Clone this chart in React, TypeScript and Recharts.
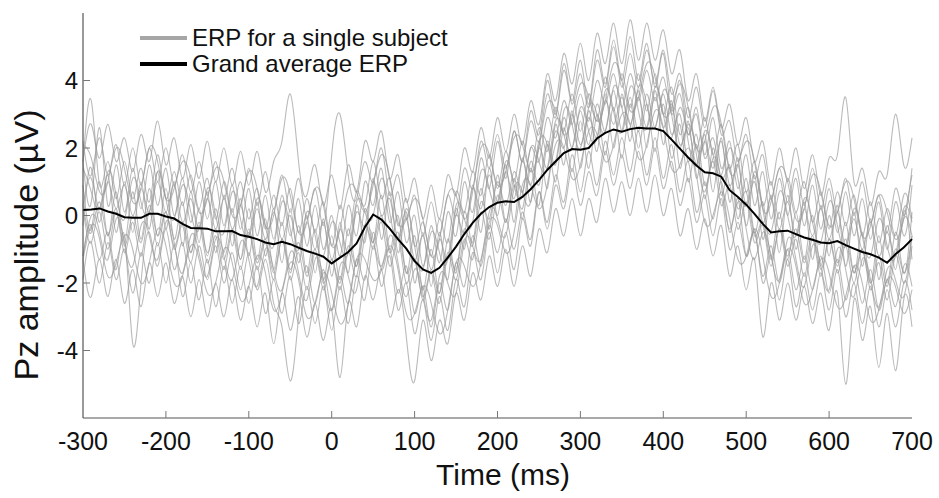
import React from 'react';
import { LineChart, Line, XAxis, YAxis, Legend } from 'recharts';

const times = [
  -300, -290, -280, -270, -260, -250, -240, -230, -220, -210,
  -200, -190, -180, -170, -160, -150, -140, -130, -120, -110,
  -100, -90, -80, -70, -60, -50, -40, -30, -20, -10,
  0, 10, 20, 30, 40, 50, 60, 70, 80, 90,
  100, 110, 120, 130, 140, 150, 160, 170, 180, 190,
  200, 210, 220, 230, 240, 250, 260, 270, 280, 290,
  300, 310, 320, 330, 340, 350, 360, 370, 380, 390,
  400, 410, 420, 430, 440, 450, 460, 470, 480, 490,
  500, 510, 520, 530, 540, 550, 560, 570, 580, 590,
  600, 610, 620, 630, 640, 650, 660, 670, 680, 690,
  700,
];

const grandAverage = [
  0.16, 0.18, 0.21, 0.12, 0.05, -0.05, -0.07, -0.07, 0.05, 0.05,
  -0.03, -0.09, -0.25, -0.37, -0.38, -0.39, -0.47, -0.47, -0.46, -0.58,
  -0.63, -0.7, -0.8, -0.85, -0.78, -0.85, -0.95, -1.05, -1.13, -1.22,
  -1.42, -1.25, -1.08, -0.83, -0.35, 0.03, -0.12, -0.39, -0.7, -0.98,
  -1.35, -1.6, -1.7, -1.55, -1.25, -0.92, -0.55, -0.22, 0.05, 0.25,
  0.38, 0.42, 0.4, 0.55, 0.78, 1.05, 1.35, 1.6, 1.85, 1.97,
  1.95, 2.0, 2.28, 2.45, 2.55, 2.48, 2.56, 2.6, 2.58, 2.58,
  2.5, 2.25, 1.98, 1.72, 1.48, 1.28, 1.25, 1.15, 0.75, 0.55,
  0.32, 0.05, -0.25, -0.5, -0.47, -0.45, -0.55, -0.65, -0.72, -0.8,
  -0.82, -0.76, -0.88, -0.98, -1.08, -1.15, -1.25, -1.4, -1.15, -0.95,
  -0.7,
];

const subject1 = [
  1.6, 3.4, 0.9, 1.6, 0.5, 1.6, 0.5, 1.4, 0.4, 1.8,
  0.5, 1.3, 0.3, 1.2, 0.2, 1.1, -0.1, 1.0, 0.1, 1.0,
  -0.1, 0.8, -0.4, 0.6, -0.3, 0.8, -0.5, 0.5, -0.5, 0.4,
  -0.9, 0.3, -0.6, 0.7, 0.3, 1.6, 0.5, 1.1, -0.3, 0.5,
  -0.9, -0.2, -1.2, -0.1, -0.8, 0.7, 0.1, 1.3, 0.6, 1.8,
  0.8, 1.9, 1.0, 2.2, 1.3, 2.6, 1.9, 3.2, 2.5, 3.6,
  2.5, 3.6, 2.8, 4.1, 3.1, 4.2, 3.2, 4.2, 3.1, 4.2,
  3.0, 3.8, 2.4, 3.2, 2.0, 2.9, 1.8, 2.7, 1.4, 2.1,
  0.7, 1.6, 0.3, 1.0, -0.1, 1.1, 0.1, 1.0, -0.2, 0.7,
  -0.4, 0.7, -0.3, 0.6, -0.6, 0.4, -0.8, 0.2, -0.6, 0.6,
  -0.1,
];
const subject2 = [
  -1.2, -0.3, -1.3, -0.5, -1.6, -0.6, -3.8, -2.0, -0.5, -1.5,
  -0.4, -1.6, -0.8, -2.0, -0.9, -1.9, -0.9, -2.0, -1.1, -2.2,
  -1.1, -2.2, -1.3, -2.6, -3.3, -4.9, -3.0, -1.5, -2.6, -1.6,
  -2.8, -1.8, -2.6, -1.3, -1.9, -0.5, -1.6, -1.0, -2.3, -1.5,
  -2.9, -2.1, -3.3, -2.0, -2.8, -1.4, -2.1, -0.6, -1.5, -0.3,
  -1.1, -0.1, -1.0, 0.1, -0.7, 0.7, -0.4, 0.9, 0.2, 1.4,
  0.3, 1.3, 0.6, 1.9, 0.9, 1.8, 0.8, 1.9, 0.9, 2.0,
  0.8, 1.6, 0.3, 1.1, -0.2, 0.6, -0.6, 0.5, -1.0, -0.2,
  -1.2, -0.5, -1.8, -0.9, -2.0, -1.0, -2.2, -1.2, -2.2, -1.2,
  -2.3, -1.3, -2.5, -1.5, -2.6, -1.6, -2.8, -1.9, -2.7, -1.5,
  -2.1,
];
const subject3 = [
  1.6, 2.7, 1.7, 2.7, 1.6, 2.3, 1.3, 2.4, 1.6, 2.8,
  1.5, 2.3, 1.1, 2.1, 1.1, 2.2, 1.0, 2.0, 0.9, 1.9,
  0.9, 1.9, 0.7, 1.6, 2.2, 3.6, 1.6, 0.6, 1.5, 0.3,
  1.2, 0.2, 1.5, 0.7, 2.2, 1.6, 2.5, 1.1, 1.8, 0.4,
  1.1, -0.1, 0.9, -0.1, 1.2, 0.6, 2.0, 1.3, 2.6, 1.7,
  2.9, 1.9, 3.0, 2.1, 3.4, 2.7, 4.2, 3.4, 4.8, 3.9,
  5.1, 4.0, 5.4, 4.5, 5.7, 4.5, 5.8, 4.6, 5.7, 4.6,
  5.5, 4.2, 4.9, 3.4, 4.2, 2.8, 3.8, 2.6, 3.3, 2.1,
  2.9, 1.6, 2.2, 0.9, 2.0, 1.0, 2.0, 0.8, 1.8, 0.6,
  1.7, 1.8, 3.5, 1.0, 1.4, 0.3, 1.3, 1.2, 3.0, 1.5,
  2.3,
];
const subject4 = [
  -1.3, -2.4, -1.3, -2.4, -1.3, -2.6, -1.6, -2.7, -1.4, -2.4,
  -1.4, -2.6, -1.8, -3.0, -1.9, -3.0, -2.0, -3.0, -1.9, -3.1,
  -2.1, -3.3, -2.3, -3.8, -2.3, -3.4, -2.4, -3.6, -2.6, -3.7,
  -2.8, -4.8, -2.6, -3.3, -1.8, -2.5, -1.6, -3.0, -2.2, -3.6,
  -4.9, -3.1, -4.3, -3.1, -3.8, -2.3, -3.1, -1.7, -2.5, -1.2,
  -2.1, -1.0, -2.1, -0.9, -1.8, -0.4, -1.1, 0.2, -0.6, 0.5,
  -0.6, 0.5, -0.2, 1.1, 0.1, 1.0, 0.0, 1.1, 0.1, 1.2,
  0.0, 0.8, -0.6, 0.2, -1.0, -0.1, -1.2, -0.3, -1.8, -0.9,
  -2.2, -1.3, -3.6, -2.0, -3.1, -2.0, -3.1, -2.1, -3.2, -2.3,
  -3.4, -2.3, -5.0, -2.5, -3.7, -2.7, -4.5, -2.9, -4.6, -2.5,
  -3.3,
];
const subject5 = [
  0.3, 1.1, 0.2, 1.0, 0.2, 0.9, 0.0, 0.8, 0.1, 1.0,
  0.1, 0.9, -0.2, 0.5, -0.4, 0.5, -0.4, 0.5, -0.4, 0.3,
  -0.6, 0.2, -0.7, 0.1, -0.7, 0.0, -1.0, -0.2, -1.0, -0.2,
  -1.3, -0.4, -1.1, 0.1, -0.3, 1.0, 0.0, 0.5, -0.7, -0.1,
  -1.3, -0.6, -1.6, -0.7, -1.3, 0.0, -0.5, 0.8, 0.2, 1.2,
  0.4, 1.3, 0.5, 1.6, 0.9, 2.0, 1.4, 2.5, 2.0, 3.0,
  2.1, 2.9, 2.3, 3.4, 2.7, 3.5, 2.7, 3.5, 2.6, 3.5,
  2.6, 3.3, 2.1, 2.6, 1.5, 2.2, 1.4, 2.2, 0.9, 1.5,
  0.3, 1.0, -0.2, 0.5, -0.4, 0.4, -0.6, 0.2, -0.6, 0.2,
  -0.7, 0.1, -0.9, -0.1, -1.0, -0.2, -1.2, -0.5, -1.2, -0.1,
  -0.6,
];
const subject6 = [
  0.2, -0.8, 0.1, -1.0, 0.1, -1.1, -0.2, -1.2, 0.1, -0.9,
  0.1, -1.0, -0.3, -1.4, -0.3, -1.4, -0.6, -1.6, -0.5, -1.6,
  -0.5, -1.6, -0.8, -1.9, -0.7, -1.9, -1.1, -2.2, -1.1, -2.2,
  -1.3, -2.2, -1.1, -1.8, -0.3, -1.0, -0.2, -1.5, -0.7, -2.0,
  -1.3, -2.5, -1.7, -2.6, -1.2, -1.9, -0.7, -1.3, 0.1, -0.7,
  0.6, -0.2, 0.9, 0.2, 1.6, 0.9, 2.2, 1.5, 2.9, 2.0,
  3.1, 2.1, 3.3, 2.5, 3.7, 2.5, 3.5, 2.5, 3.6, 2.6,
  3.6, 2.4, 3.0, 1.6, 2.4, 0.9, 1.6, 0.3, 0.9, -0.4,
  0.4, -0.8, -0.3, -1.5, -0.4, -1.5, -0.7, -1.8, -0.7, -1.8,
  -0.7, -1.7, -0.9, -2.0, -1.0, -2.2, -1.4, -2.5, -1.2, -2.0,
  -0.6,
];
const subject7 = [
  0.9, -0.4, 1.0, -0.6, 0.7, -0.8, 0.7, -0.7, 0.8, -0.6,
  0.8, -0.7, 0.4, -1.1, 0.2, -1.2, 0.2, -1.1, 0.2, -1.3,
  0.2, -1.3, -0.1, -1.6, -0.2, -1.7, -0.3, -1.7, -0.4, -1.9,
  -0.6, -1.9, -0.4, -1.5, 0.2, -0.8, 0.6, -1.0, 0.0, -1.7,
  -0.6, -2.2, -1.0, -2.3, -0.7, -1.7, 0.1, -0.8, 0.8, -0.4,
  1.2, -0.2, 1.1, -0.1, 1.4, 0.3, 2.1, 1.0, 2.6, 1.3,
  2.8, 1.4, 3.0, 1.8, 3.2, 1.7, 3.3, 2.0, 3.3, 1.9,
  3.3, 1.7, 2.7, 1.0, 2.1, 0.5, 2.0, 0.6, 1.5, -0.1,
  1.1, -0.5, 0.4, -1.2, 0.1, -1.3, 0.1, -1.3, 0.0, -1.5,
  0.0, -1.4, -0.2, -1.7, -0.5, -2.0, -0.6, -2.0, -0.5, -1.7,
  0.1,
];
const subject8 = [
  2.2, 1.2, 2.3, 1.2, 2.1, 0.9, 2.0, 0.9, 2.0, 1.0,
  2.0, 0.9, 1.8, 0.7, 1.6, 0.6, 1.6, 0.5, 1.4, 0.3,
  1.4, 0.3, 1.3, 0.2, 1.2, 0.1, 1.1, -0.1, 0.8, -0.3,
  1.8, 3.0, 1.2, 0.5, 1.6, 1.0, 2.0, 0.6, 1.2, -0.1,
  0.6, -0.6, 0.4, -0.6, 0.6, 0.0, 1.4, 0.8, 2.2, 1.4,
  2.4, 1.4, 2.5, 1.6, 2.8, 2.2, 3.6, 2.9, 4.3, 3.3,
  4.2, 3.2, 4.6, 3.8, 5.0, 3.8, 4.8, 3.8, 4.9, 3.9,
  4.9, 3.6, 4.2, 2.9, 3.8, 2.6, 3.7, 2.4, 2.8, 1.6,
  2.4, 1.1, 1.8, 0.5, 1.4, 0.4, 1.4, 0.3, 1.4, 0.2,
  1.1, 0.1, 1.1, 0.0, 1.0, -0.2, 0.6, -0.5, 0.8, 0.0,
  1.4,
];
const subject9 = [
  -1.9, -0.8, -2.0, -0.8, -1.9, -1.0, -2.3, -1.1, -2.0, -0.8,
  -2.0, -0.9, -2.4, -1.4, -2.5, -1.3, -2.7, -1.5, -2.6, -1.5,
  -2.6, -1.5, -2.9, -1.9, -2.9, -1.8, -3.2, -2.1, -3.2, -2.1,
  -3.4, -2.1, -3.2, -1.8, -2.5, -0.9, -2.1, -1.2, -2.8, -2.0,
  -3.5, -2.5, -3.7, -2.4, -3.4, -1.9, -2.7, -1.1, -1.9, -0.5,
  -1.7, -0.5, -1.6, -0.1, -0.9, 0.7, -0.2, 1.2, 0.4, 1.8,
  0.7, 1.9, 0.9, 2.2, 1.2, 2.3, 1.3, 2.5, 1.2, 2.3,
  1.1, 2.1, 0.7, 1.6, 0.1, 1.0, -0.1, 1.0, -0.5, 0.5,
  -1.2, -0.4, -2.0, -1.2, -2.5, -1.3, -2.7, -1.7, -2.8, -1.7,
  -2.8, -1.6, -3.0, -2.0, -3.2, -2.1, -3.3, -2.2, -3.3, -2.0,
  -2.8,
];
const subject10 = [
  -0.3, 1.4, -0.2, 1.2, -0.5, 1.0, -0.5, 1.0, -0.4, 1.3,
  -0.4, 1.0, -0.9, 0.7, -0.8, 0.7, -1.1, 0.6, -0.9, 0.5,
  -1.2, 0.4, -1.2, 0.2, -1.4, 0.2, -1.4, 0.0, -1.7, -0.1,
  -1.8, -0.2, -1.7, 0.3, -0.8, 1.1, -0.7, 0.7, -1.1, 0.1,
  -2.0, -0.5, -2.1, -0.5, -1.9, 0.2, -1.0, 0.9, -0.5, 1.4,
  0.0, 1.5, -0.2, 1.7, 0.4, 2.2, 0.8, 2.7, 1.5, 3.1,
  1.4, 3.1, 1.9, 3.6, 2.0, 3.6, 2.2, 3.7, 2.0, 3.7,
  2.1, 3.4, 1.4, 2.8, 1.1, 2.4, 0.7, 2.3, 0.4, 1.7,
  -0.3, 1.2, -0.7, 0.6, -1.1, 0.6, -1.0, 0.4, -1.3, 0.3,
  -1.2, 0.3, -1.5, 0.1, -1.5, -0.1, -1.9, -0.3, -1.6, 0.1,
  -1.3,
];
const subject11 = [
  0.3, -0.5, 0.4, -0.6, 0.2, -0.9, 0.0, -0.8, 0.3, -0.6,
  0.1, -0.9, -0.2, -1.1, -0.2, -1.1, -0.4, -1.3, -0.4, -1.3,
  -0.4, -1.4, -0.7, -1.7, -0.7, -1.6, -0.8, -1.8, -1.0, -2.0,
  -1.3, -2.0, -0.9, -1.5, -0.3, -0.8, 0.0, -1.1, -0.5, -1.7,
  -1.3, -2.4, -1.6, -2.3, -1.1, -1.6, -0.4, -0.9, 0.4, -0.1,
  1.0, 0.3, 1.3, 0.7, 2.0, 1.6, 2.9, 2.3, 3.4, 2.7,
  3.6, 2.8, 4.0, 3.3, 4.2, 3.2, 4.2, 3.4, 4.3, 3.4,
  4.1, 3.0, 3.6, 2.4, 3.0, 1.7, 2.3, 1.1, 1.4, 0.2,
  0.7, -0.6, -0.2, -1.3, -0.4, -1.2, -0.4, -1.4, -0.6, -1.6,
  -0.7, -1.5, -0.7, -1.7, -1.0, -2.0, -1.2, -2.1, -1.0, -1.7,
  -0.6,
];
const subject12 = [
  1.6, 0.4, 2.6, 0.3, 1.5, 0.1, 1.4, 0.2, 1.5, 0.3,
  1.4, 0.0, 1.1, -0.2, 1.0, -0.1, 1.0, -0.3, 0.9, -0.4,
  0.8, -0.6, 0.6, -0.7, 0.6, -0.6, 0.5, -0.9, 0.3, -1.0,
  0.0, -1.2, 0.3, -0.6, 1.0, 0.3, 1.4, -0.2, 0.7, -0.8,
  0.0, -1.5, -0.3, -1.4, 0.1, -0.6, 1.0, 0.1, 1.7, 0.8,
  2.2, 1.1, 2.5, 1.6, 3.1, 2.4, 4.0, 3.0, 4.5, 3.4,
  4.6, 3.3, 4.9, 3.9, 5.2, 4.0, 5.3, 4.0, 5.1, 3.8,
  4.8, 3.1, 4.0, 2.4, 3.2, 1.8, 2.9, 1.4, 2.2, 0.8,
  1.8, 0.3, 1.3, -0.1, 1.1, 0.0, 1.1, -0.3, 0.9, -0.4,
  0.8, -0.5, 0.7, -0.6, 0.5, -0.7, 0.4, -1.0, 0.4, -0.6,
  0.9,
];
const subject13 = [
  1.4, 0.7, 0.2, 1.3, 0.6, -0.1, 1.1, 0.4, 0.1, 1.3,
  0.5, -0.1, 0.9, 0.1, -0.4, 0.8, 0.0, -0.5, 0.7, -0.1,
  -0.6, 0.5, -0.3, -0.9, 0.4, -0.4, -1.0, 0.1, -0.6, -1.2,
  -0.2, -0.8, -1.1, 0.4, 0.1, 0.0, 1.1, 0.1, -0.7, 0.2,
  -0.9, -1.6, -0.5, -1.1, -1.3, 0.3, -0.1, -0.2, 1.3, 0.8,
  0.4, 1.6, 0.9, 0.6, 2.0, 1.6, 1.4, 2.8, 2.4, 2.0,
  3.2, 2.5, 2.3, 3.7, 3.1, 2.5, 3.8, 3.1, 2.6, 3.8,
  3.0, 2.3, 3.2, 2.2, 1.5, 2.5, 1.8, 1.2, 2.0, 1.1,
  0.3, 1.3, 0.2, -0.5, 0.7, 0.0, -0.6, 0.5, -0.2, -0.8,
  0.4, -0.3, -0.9, 0.2, -0.6, -1.2, -0.1, -0.9, -1.2, 0.2,
  -0.2,
];
const subject14 = [
  -1.2, 0.0, -0.5, -1.3, -0.1, -0.8, -1.5, -0.3, -0.6, -1.3,
  -0.2, -0.8, -1.7, -0.6, -1.1, -1.8, -0.7, -1.2, -1.9, -0.8,
  -1.3, -2.1, -1.0, -1.6, -2.2, -1.1, -1.7, -2.5, -1.3, -1.9,
  -2.8, -1.5, -1.8, -2.2, -0.6, -0.7, -1.5, -0.6, -1.4, -2.4,
  -1.6, -2.3, -3.1, -1.8, -2.0, -2.3, -0.8, -0.9, -1.3, 0.1,
  -0.1, -0.6, 0.8, 0.7, 0.4, 2.1, 2.1, 1.6, 3.1, 2.7,
  2.0, 3.2, 3.0, 2.5, 3.8, 3.2, 2.6, 3.8, 3.3, 2.6,
  3.7, 3.0, 2.0, 2.7, 1.8, 0.7, 1.7, 0.9, -0.4, 0.4,
  -0.4, -1.3, -0.5, -1.2, -1.9, -0.7, -1.3, -2.1, -0.9, -1.5,
  -2.2, -1.0, -1.6, -2.4, -1.3, -1.9, -2.7, -1.6, -1.9, -2.4,
  -0.9,
];
const subject15 = [
  2.1, 1.7, 0.7, 1.0, 2.0, 1.4, 0.4, 0.8, 2.0, 1.6,
  0.5, 0.8, 1.6, 1.1, 0.1, 0.5, 1.4, 1.0, 0.0, 0.3,
  1.3, 0.8, -0.3, 0.0, 1.1, 0.6, -0.5, -0.2, 0.8, 0.3,
  -0.9, -0.4, 0.8, 0.7, 0.1, 0.9, 1.8, 1.1, -0.2, -0.1,
  0.5, -0.1, -1.2, -0.7, 0.6, 0.6, -0.1, 0.7, 2.0, 1.8,
  0.9, 1.3, 2.3, 2.1, 1.3, 2.0, 3.3, 3.1, 2.4, 2.9,
  3.9, 3.5, 2.8, 3.4, 4.5, 4.0, 3.1, 3.5, 4.5, 4.1,
  3.0, 3.2, 3.9, 3.2, 2.0, 2.2, 3.2, 2.7, 1.3, 1.5,
  2.2, 1.6, 0.2, 0.4, 1.4, 1.0, -0.1, 0.2, 1.2, 0.7,
  -0.3, 0.1, 1.0, 0.5, -0.6, -0.3, 0.6, 0.1, -0.7, -0.1,
  1.2,
];
const subject16 = [
  -1.3, -0.3, -0.7, -1.8, -1.4, -0.6, -1.0, -2.0, -1.4, -0.4,
  -0.9, -2.0, -1.8, -0.9, -1.3, -2.3, -2.0, -1.0, -1.4, -2.5,
  -2.1, -1.2, -1.7, -2.8, -2.3, -1.4, -1.9, -3.0, -2.6, -1.7,
  -2.3, -3.2, -2.6, -1.3, -1.3, -1.9, -1.6, -0.9, -1.6, -2.9,
  -2.9, -2.1, -2.6, -3.5, -2.8, -1.4, -1.5, -2.1, -1.4, -0.2,
  -0.3, -1.1, -0.5, 0.9, 0.9, 0.2, 0.9, 2.1, 2.0, 1.1,
  1.5, 2.5, 2.4, 1.6, 2.1, 3.0, 2.7, 1.7, 2.1, 3.1,
  2.6, 1.4, 1.5, 2.0, 1.2, -0.2, 0.0, 0.7, -0.1, -1.3,
  -1.2, -0.4, -1.2, -2.4, -2.0, -1.0, -1.5, -2.6, -2.2, -1.3,
  -1.7, -2.7, -2.4, -1.5, -2.0, -3.1, -2.8, -1.9, -2.1, -2.9,
  -2.2,
];

const subjects = [
  subject1, subject2, subject3, subject4, subject5, subject6, subject7, subject8,
  subject9, subject10, subject11, subject12, subject13, subject14, subject15, subject16,
];

const xTicks = [-300, -200, -100, 0, 100, 200, 300, 400, 500, 600, 700];
const yTicks = [-4, -2, 0, 2, 4];

const data = times.map((t, i) => {
  const row: Record<string, number> = { t, avg: grandAverage[i] };
  subjects.forEach((s, k) => {
    row['s' + (k + 1)] = s[i];
  });
  return row;
});

const FONT = '"Liberation Sans", Arial, Helvetica, sans-serif';

const YTick = (props: any) => {
  const { x, y, payload } = props;
  return (
    <g>
      <line x1={x + 5} x2={x + 12} y1={y} y2={y} stroke="#777" strokeWidth={1} />
      <text x={x} y={y} textAnchor="end" dominantBaseline="central" fontSize={24} fontFamily={FONT} fill="#111">
        {payload.value}
      </text>
    </g>
  );
};

const XTick = (props: any) => {
  const { x, y, payload } = props;
  const showMark = payload.value !== -300 && payload.value !== 700;
  return (
    <g>
      {showMark && <line x1={x} x2={x} y1={y - 7} y2={y} stroke="#777" strokeWidth={1} />}
      <text x={x} y={y + 23} textAnchor="middle" dominantBaseline="central" fontSize={25} fontFamily={FONT} fill="#111">
        {payload.value}
      </text>
    </g>
  );
};

const LegendBox = () => (
  <div style={{ fontFamily: FONT, fontSize: 24, color: '#111', lineHeight: '26px' }}>
    <div style={{ display: 'flex', alignItems: 'center' }}>
      <span style={{ display: 'inline-block', width: 47, height: 4, background: '#a6a6a6', marginRight: 5 }} />
      <span>ERP for a single subject</span>
    </div>
    <div style={{ display: 'flex', alignItems: 'center' }}>
      <span style={{ display: 'inline-block', width: 47, height: 4, background: '#000', marginRight: 5 }} />
      <span>Grand average ERP</span>
    </div>
  </div>
);

export default function App() {
  return (
    <div style={{ position: 'absolute', left: 0, top: 0, width: 939, height: 498, background: '#fff' }}>
      <LineChart width={939} height={498} data={data} margin={{ top: 13, right: 27, left: 0, bottom: 0 }}>
        <XAxis
          dataKey="t"
          type="number"
          domain={[-300, 700]}
          ticks={xTicks}
          interval={0}
          height={80}
          tickSize={0}
          tickMargin={0}
          tickLine={false}
          axisLine={{ stroke: '#555', strokeWidth: 1.2 }}
          tick={<XTick />}
          label={{
            content: () => (
              <text x={503} y={485} textAnchor="middle" fontSize={30} fontFamily={FONT} fill="#111">
                Time (ms)
              </text>
            ),
          }}
        />
        <YAxis
          type="number"
          domain={[-6, 6]}
          ticks={yTicks}
          interval={0}
          width={83}
          tickSize={0}
          tickMargin={5}
          tickLine={false}
          axisLine={{ stroke: '#555', strokeWidth: 1.2 }}
          tick={<YTick />}
          allowDataOverflow
          label={{
            content: () => (
              <text
                x={26}
                y={245}
                transform="rotate(-90 26 245)"
                textAnchor="middle"
                dominantBaseline="central"
                fontSize={34}
                fontFamily={FONT}
                fill="#111"
              >
                Pz amplitude (µV)
              </text>
            ),
          }}
        />
        <Legend
          layout="horizontal"
          verticalAlign="middle"
          align="center"
          content={<LegendBox />}
          wrapperStyle={{ position: 'absolute', top: 25, left: 140, width: 'auto', height: 'auto' }}
        />
        {subjects.map((_, k) => (
          <Line
            key={'s' + (k + 1)}
            dataKey={'s' + (k + 1)}
            type="natural"
            stroke="#999999"
            strokeOpacity={0.68}
            strokeWidth={1.1}
            dot={false}
            activeDot={false}
            isAnimationActive={false}
            legendType="none"
          />
        ))}
        <Line
          dataKey="avg"
          type="linear"
          stroke="#000"
          strokeWidth={2}
          dot={false}
          activeDot={false}
          isAnimationActive={false}
        />
      </LineChart>
    </div>
  );
}
